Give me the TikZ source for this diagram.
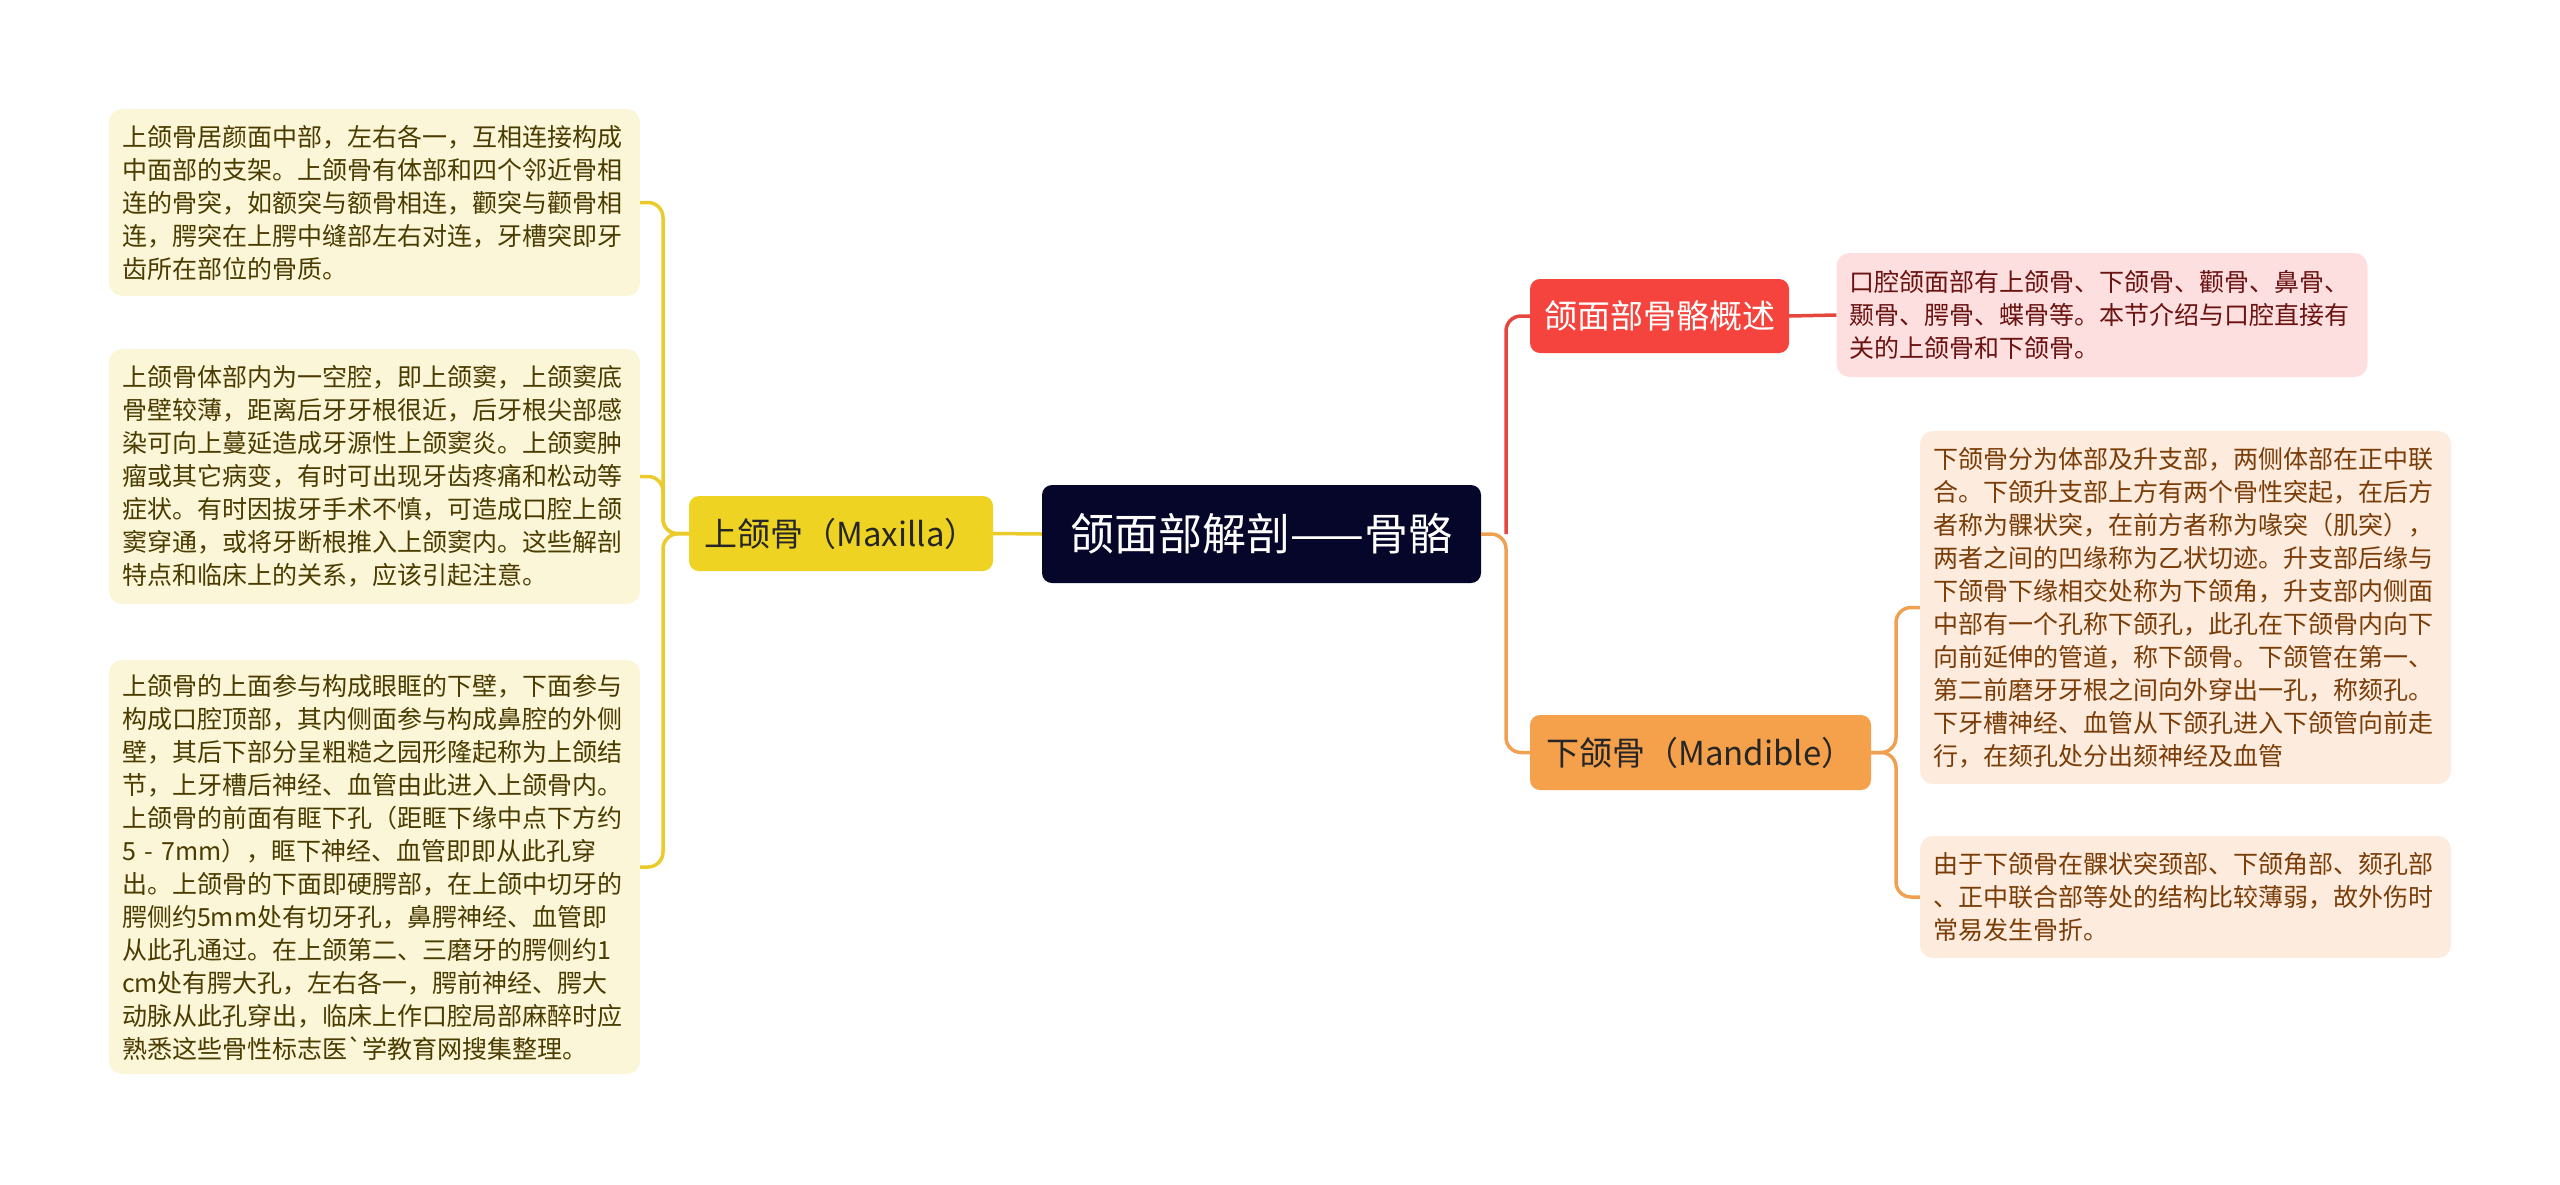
\documentclass[tikz,border=0pt]{standalone}
\usepackage{fontspec}
\newfontfamily\cjk{Noto Sans CJK SC}

\definecolor{rootbg}{HTML}{06062A}
\definecolor{maxyel}{HTML}{EFD323}
\definecolor{maxline}{HTML}{EBCB2C}
\definecolor{maxleaf}{HTML}{FCF6D8}
\definecolor{maxtext}{HTML}{4A3C00}
\definecolor{sumred}{HTML}{F4443D}
\definecolor{sumline}{HTML}{E5463E}
\definecolor{sumleaf}{HTML}{FDDFDF}
\definecolor{sumtext}{HTML}{6B1212}
\definecolor{manorg}{HTML}{F5A04B}
\definecolor{manline}{HTML}{EFA151}
\definecolor{manleaf}{HTML}{FDEBDD}
\definecolor{mantext}{HTML}{7A3D08}

\tikzset{
  rootbox/.style={fill=rootbg, text=white, rounded corners=10pt, inner sep=0pt,
    minimum width=439pt, minimum height=98pt, font=\cjk\fontsize{44}{50}\selectfont},
  branchbox/.style={rounded corners=10pt, inner sep=0pt, minimum height=75pt,
    font=\cjk\fontsize{33}{38}\selectfont},
  leafbox/.style={rounded corners=13pt, inner xsep=13pt, inner ysep=0pt, align=left,
    text width=505pt, font=\cjk\fontsize{25}{33}\selectfont},
  link/.style={line width=3.5pt, rounded corners=15pt},
}

\begin{document}
\begin{tikzpicture}[x=1pt, y=-1pt]
  \useasboundingbox (0,0) rectangle (2560,1184);

  % --- root ---
  \node[rootbox] (root) at (1261.5,534) {颌面部解剖——骨骼};

  % --- Maxilla ---
  \node[branchbox, fill=maxyel, text=black!85, minimum width=304pt] (maxilla) at (841,533.5) {上颌骨（Maxilla）};
  \node[leafbox, fill=maxleaf, text=maxtext, minimum height=187pt] (maxa) at (374.5,202.5)
    {上颌骨居颜面中部，左右各一，互相连接构成\\中面部的支架。上颌骨有体部和四个邻近骨相\\连的骨突，如额突与额骨相连，颧突与颧骨相\\连，腭突在上腭中缝部左右对连，牙槽突即牙\\齿所在部位的骨质。};
  \node[leafbox, fill=maxleaf, text=maxtext, minimum height=255pt] (maxb) at (374.5,476.5)
    {上颌骨体部内为一空腔，即上颌窦，上颌窦底\\骨壁较薄，距离后牙牙根很近，后牙根尖部感\\染可向上蔓延造成牙源性上颌窦炎。上颌窦肿\\瘤或其它病变，有时可出现牙齿疼痛和松动等\\症状。有时因拔牙手术不慎，可造成口腔上颌\\窦穿通，或将牙断根推入上颌窦内。这些解剖\\特点和临床上的关系，应该引起注意。};
  \node[leafbox, fill=maxleaf, text=maxtext, minimum height=414pt] (maxc) at (374.5,867)
    {上颌骨的上面参与构成眼眶的下壁，下面参与\\构成口腔顶部，其内侧面参与构成鼻腔的外侧\\壁，其后下部分呈粗糙之园形隆起称为上颌结\\节，上牙槽后神经、血管由此进入上颌骨内。\\上颌骨的前面有眶下孔（距眶下缘中点下方约\\5 - 7mm），眶下神经、血管即即从此孔穿\\出。上颌骨的下面即硬腭部，在上颌中切牙的\\腭侧约5mm处有切牙孔，鼻腭神经、血管即\\从此孔通过。在上颌第二、三磨牙的腭侧约1\\cm处有腭大孔，左右各一，腭前神经、腭大\\动脉从此孔穿出，临床上作口腔局部麻醉时应\\熟悉这些骨性标志医`学教育网搜集整理。};

  % --- summary ---
  \node[branchbox, fill=sumred, text=white, minimum width=259pt, minimum height=74pt] (summary) at (1659.5,316) {颌面部骨骼概述};
  \node[leafbox, fill=sumleaf, text=sumtext, minimum height=124pt] (suma) at (2102,315)
    {口腔颌面部有上颌骨、下颌骨、颧骨、鼻骨、\\颞骨、腭骨、蝶骨等。本节介绍与口腔直接有\\关的上颌骨和下颌骨。};

  % --- Mandible ---
  \node[branchbox, fill=manorg, text=black!85, minimum width=341pt] (mandible) at (1700.5,752.5) {下颌骨（Mandible）};
  \node[leafbox, fill=manleaf, text=mantext, minimum height=353pt] (mana) at (2185.5,607.5)
    {下颌骨分为体部及升支部，两侧体部在正中联\\合。下颌升支部上方有两个骨性突起，在后方\\者称为髁状突，在前方者称为喙突（肌突），\\两者之间的凹缘称为乙状切迹。升支部后缘与\\下颌骨下缘相交处称为下颌角，升支部内侧面\\中部有一个孔称下颌孔，此孔在下颌骨内向下\\向前延伸的管道，称下颌骨。下颌管在第一、\\第二前磨牙牙根之间向外穿出一孔，称颏孔。\\下牙槽神经、血管从下颌孔进入下颌管向前走\\行，在颏孔处分出颏神经及血管};
  \node[leafbox, fill=manleaf, text=mantext, minimum height=122pt] (manb) at (2185.5,897)
    {由于下颌骨在髁状突颈部、下颌角部、颏孔部\\、正中联合部等处的结构比较薄弱，故外伤时\\常易发生骨折。};

  % --- links ---
  \coordinate (lbus) at (663,534);
  \coordinate (rbus) at (1506,534);
  \coordinate (mbus) at (1896,752.5);
  \draw[link, maxline] (root.west) -- (maxilla.east);
  \draw[link, maxline] (maxilla.west) -- (lbus) |- (maxa.east);
  \draw[link, maxline] (maxilla.west) -- (lbus) |- (maxb.east);
  \draw[link, maxline] (maxilla.west) -- (lbus) |- (maxc.east);
  \draw[link, manline] (root.east) -- (rbus) |- (mandible.west);
  \draw[link, sumline] (rbus) |- (summary.west);
  \draw[link, sumline] (summary.east) -- (suma.west);
  \draw[link, manline] (mandible.east) -- (mbus) |- (mana.west);
  \draw[link, manline] (mandible.east) -- (mbus) |- (manb.west);
\end{tikzpicture}
\end{document}
